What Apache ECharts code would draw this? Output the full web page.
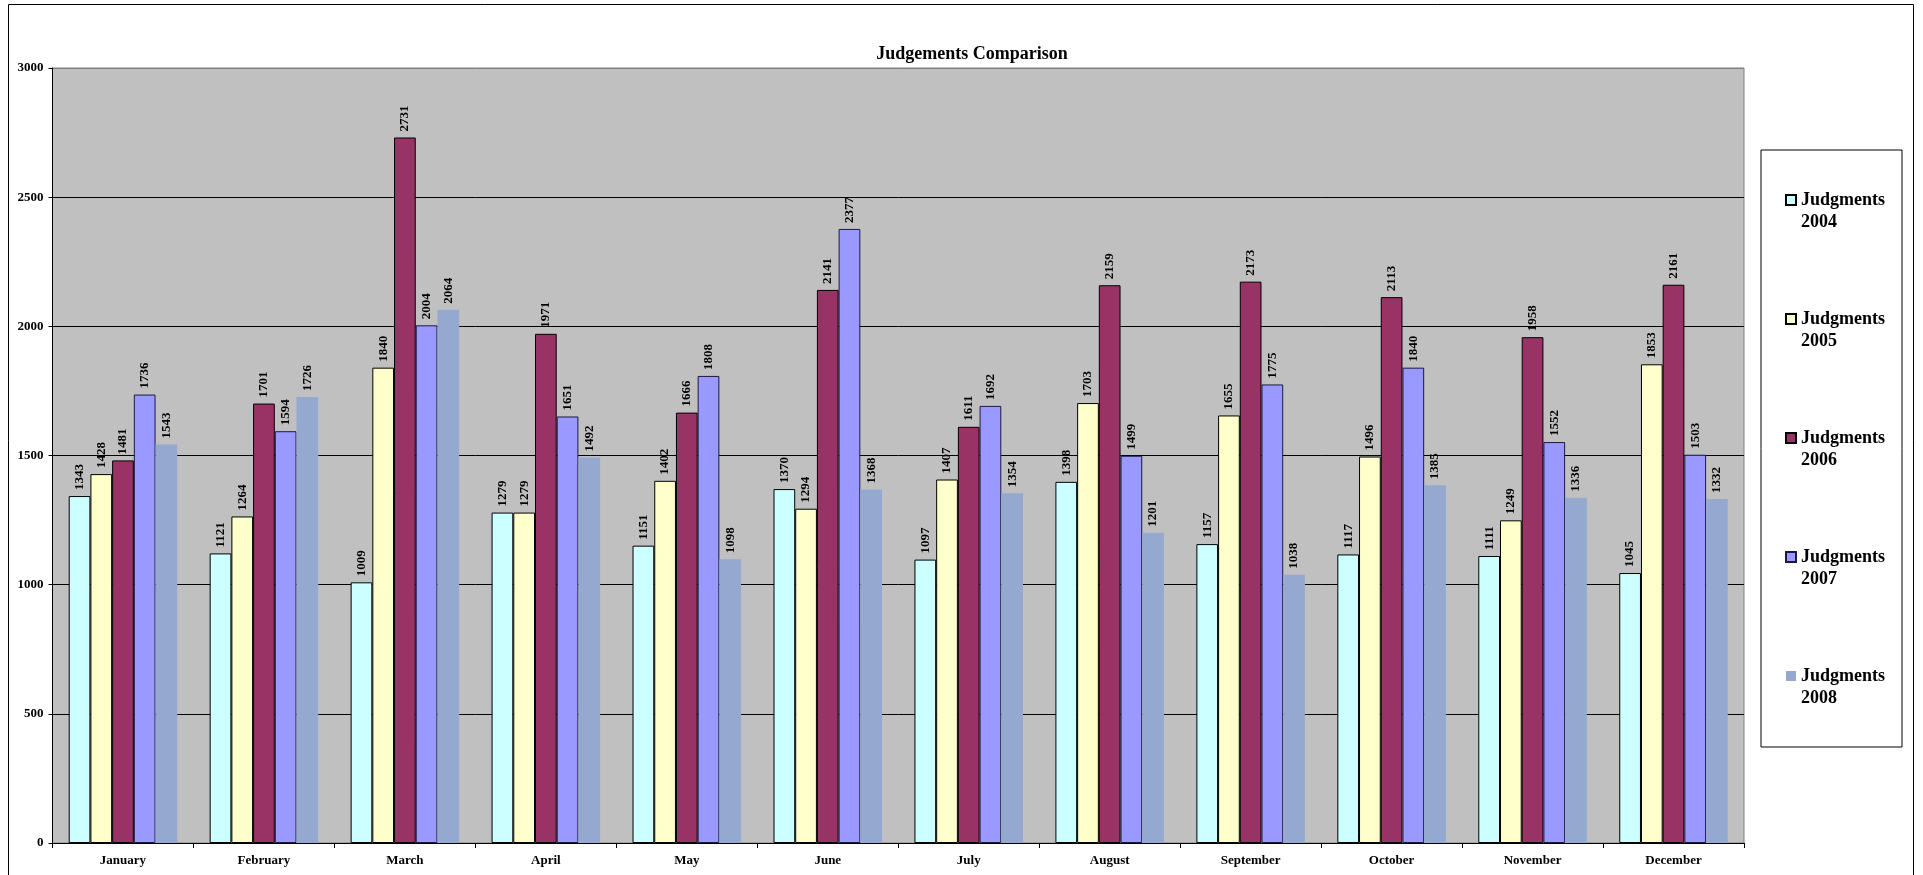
<!DOCTYPE html>
<html>
<head>
<meta charset="utf-8">
<title>Judgements Comparison</title>
<script src="https://cdn.jsdelivr.net/npm/echarts@6/dist/echarts.min.js"></script>
<style>
  html, body { margin: 0; padding: 0; background: #ffffff; }
  #chart { width: 1923px; height: 875px; }
</style>
</head>
<body>
<div id="chart"></div>
<script>
// Monthly judgment counts, one array per year
const months = ['January', 'February', 'March', 'April', 'May', 'June',
                'July', 'August', 'September', 'October', 'November', 'December'];

const judgments2004 = [1343, 1121, 1009, 1279, 1151, 1370, 1097, 1398, 1157, 1117, 1111, 1045];
const judgments2005 = [1428, 1264, 1840, 1279, 1402, 1294, 1407, 1703, 1655, 1496, 1249, 1853];
const judgments2006 = [1481, 1701, 2731, 1971, 1666, 2141, 1611, 2159, 2173, 2113, 1958, 2161];
const judgments2007 = [1736, 1594, 2004, 1651, 1808, 2377, 1692, 1499, 1775, 1840, 1552, 1503];
const judgments2008 = [1543, 1726, 2064, 1492, 1098, 1368, 1354, 1201, 1038, 1385, 1336, 1332];

const seriesNames = ['Judgments\n2004', 'Judgments\n2005', 'Judgments\n2006', 'Judgments\n2007', 'Judgments\n2008'];
const yTicks = [0, 500, 1000, 1500, 2000, 2500, 3000];

const serif = '"Liberation Serif", "Times New Roman", serif';

const seriesStyle = [
  { color: '#CCFFFF', border: '#000000', bw: 1 },
  { color: '#FFFFCC', border: '#000000', bw: 1 },
  { color: '#993366', border: '#000000', bw: 1 },
  { color: '#9999FF', border: '#1a1a40', bw: 1 },
  { color: '#95A9D0', border: '#95A9D0', bw: 0 }
];

const dataSets = [judgments2004, judgments2005, judgments2006, judgments2007, judgments2008];

const chart = echarts.init(document.getElementById('chart'), null, { renderer: 'canvas' });

// square legend marker sitting at the top of a taller box, so it lines up with the first text line
const legendIcon = 'path://M0,0H10V10H0Z M0,32';

const series = dataSets.map((values, i) => ({
  name: seriesNames[i],
  type: 'bar',
  data: values,
  barGap: '0%',
  barCategoryGap: '23%',
  itemStyle: {
    color: seriesStyle[i].color,
    borderColor: seriesStyle[i].border,
    borderWidth: seriesStyle[i].bw
  },
  label: {
    show: true,
    position: 'top',
    rotate: 90,
    align: 'left',
    verticalAlign: 'middle',
    distance: 6,
    color: '#000000',
    fontFamily: serif,
    fontWeight: 'bold',
    fontSize: 13
  },
  emphasis: { disabled: true }
}));

chart.setOption({
  animation: false,
  backgroundColor: '#ffffff',
  title: {
    text: 'Judgements Comparison',
    left: 967,
    textAlign: 'center',
    top: 40,
    textStyle: {
      fontFamily: serif,
      fontWeight: 'bold',
      fontSize: 18,
      color: '#000000'
    }
  },
  graphic: [{
    type: 'rect',
    shape: { x: 8.5, y: 4.5, width: 1905, height: 900 },
    style: { fill: 'none', stroke: '#000000', lineWidth: 1 },
    silent: true,
    z: -1
  }],
  legend: {
    orient: 'vertical',
    left: 1761,
    top: 150,
    padding: [39, 17, 38, 24],
    itemGap: 75,
    itemWidth: 10,
    itemHeight: 32,
    icon: legendIcon,
    backgroundColor: '#ffffff',
    borderColor: '#000000',
    borderWidth: 1,
    textStyle: {
      fontFamily: serif,
      fontWeight: 'bold',
      fontSize: 18,
      lineHeight: 22,
      color: '#000000'
    },
    data: seriesNames
  },
  grid: {
    left: 52.5,
    right: 179,
    top: 68,
    bottom: 32,
    show: true,
    backgroundColor: '#C0C0C0',
    borderColor: '#808080',
    borderWidth: 1,
    containLabel: false
  },
  xAxis: {
    type: 'category',
    data: months,
    axisLine: { show: true, lineStyle: { color: '#000000', width: 1 } },
    axisTick: { show: true, inside: false, length: 5, lineStyle: { color: '#000000' } },
    axisLabel: {
      margin: 11,
      color: '#000000',
      fontFamily: serif,
      fontWeight: 'bold',
      fontSize: 13
    },
    splitLine: { show: false }
  },
  yAxis: {
    type: 'value',
    min: yTicks[0],
    max: yTicks[yTicks.length - 1],
    interval: yTicks[1] - yTicks[0],
    axisLine: { show: true, lineStyle: { color: '#000000', width: 1 } },
    axisTick: { show: true, inside: false, length: 4, lineStyle: { color: '#000000' } },
    axisLabel: {
      margin: 9,
      color: '#000000',
      fontFamily: serif,
      fontWeight: 'bold',
      fontSize: 13,
      formatter: (v) => String(v)
    },
    splitLine: {
      show: true,
      lineStyle: {
        color: ['#000000', '#000000', '#000000', '#000000', '#000000', '#000000', '#808080'],
        width: 1
      }
    }
  },
  series: series
});
</script>
</body>
</html>
